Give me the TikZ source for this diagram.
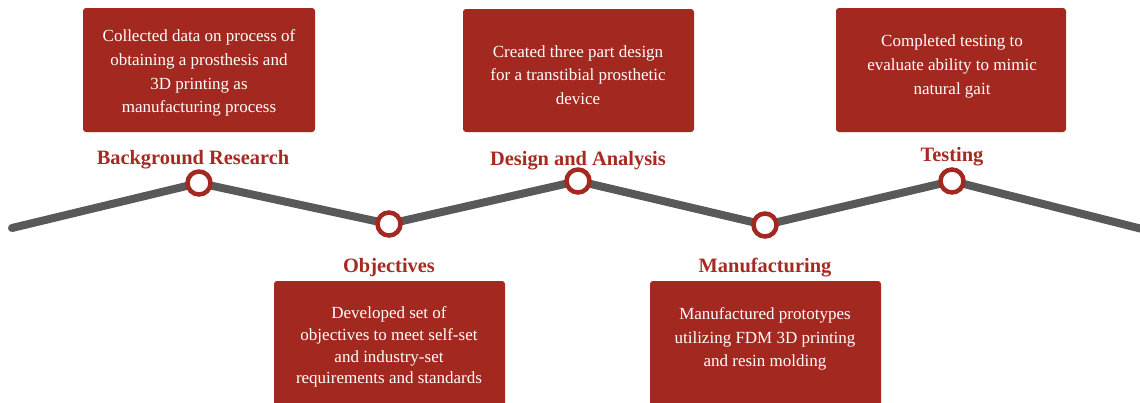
\documentclass[tikz,border=0pt]{standalone}
\usepackage{fontspec}
\setmainfont{Liberation Serif}
\definecolor{boxred}{HTML}{A3281F}
\definecolor{labred}{HTML}{A52A22}
\definecolor{track}{HTML}{595959}
\begin{document}
\begin{tikzpicture}[x=1pt,y=-1pt,
  card/.style={fill=boxred,draw=none,rounded corners=3pt,inner sep=0pt},
  cardtext/.style={text=white,align=center,inner sep=0pt,font=\fontsize{17}{23.7}\selectfont},
  stage/.style={text=labred,inner sep=0pt,font=\fontsize{20.4}{22}\selectfont\bfseries},
  trackline/.style={draw=track,line width=8pt,line cap=round,line join=round},
  milestone/.style={circle,draw=boxred,fill=white,line width=4.5pt,minimum size=23pt,inner sep=0pt}]
\useasboundingbox (0,0) rectangle (1140,402);
% milestone positions along the zig-zag track
\coordinate (s) at (12,228);
\coordinate (p1) at (199,183);
\coordinate (p2) at (389,224);
\coordinate (p3) at (578,181);
\coordinate (p4) at (765,225);
\coordinate (p5) at (952,181);
\coordinate (e) at (1150,231);
\draw[trackline] (s) -- (p1) -- (p2) -- (p3) -- (p4) -- (p5) -- (e);
\node[milestone] (m1) at (p1) {};
\node[milestone] (m2) at (p2) {};
\node[milestone] (m3) at (p3) {};
\node[milestone] (m4) at (p4) {};
\node[milestone] (m5) at (p5) {};
% upper cards
\path[card] (83,8) rectangle (315,132);
\node[cardtext] (t1) at (199,73) {Collected data on process of\\obtaining a prosthesis and\\3D printing as\\manufacturing process};
\node[stage] (l1) at (193,160) {Background Research};
\path[card] (463,9) rectangle (694,132);
\node[cardtext] (t3) at (578,75) {Created three part design\\for a transtibial prosthetic\\device};
\node[stage] (l3) at (578,161) {Design and Analysis};
\path[card] (836,8) rectangle (1066,132);
\node[cardtext] (t5) at (952,66.5) {Completed testing to\\evaluate ability to mimic\\natural gait};
\node[stage] (l5) at (952,157) {Testing};
% lower cards
\node[stage] (l2) at (389,268) {Objectives};
\path[card] (274,281) rectangle (505,410);
\node[cardtext,font=\fontsize{17}{21.8}\selectfont] (t2) at (389,347) {Developed set of\\objectives to meet self-set\\and industry-set\\requirements and standards};
\node[stage] (l4) at (765,268) {Manufacturing};
\path[card] (650,281) rectangle (881,410);
\node[cardtext] (t4) at (765,339) {Manufactured prototypes\\utilizing FDM 3D printing\\and resin molding};
\end{tikzpicture}
\end{document}
